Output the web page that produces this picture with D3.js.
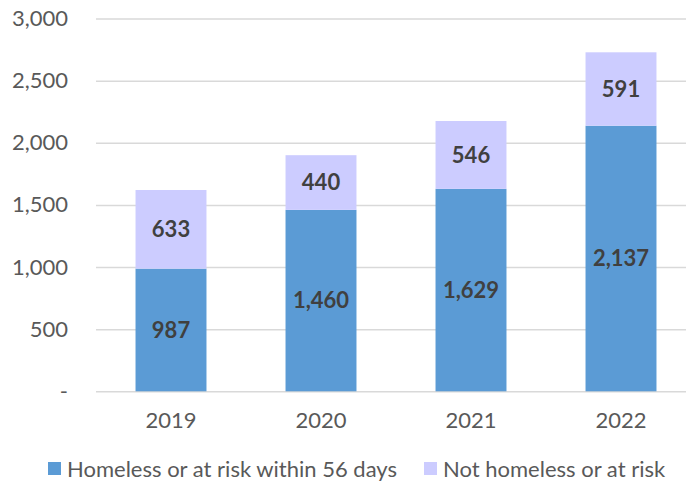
<!DOCTYPE html>
<html>
<head>
<meta charset="utf-8">
<script src="https://cdn.jsdelivr.net/npm/d3@7"></script>
<style>
  html, body { margin: 0; padding: 0; background: #fff; }
  svg { display: block; font-family: Lato, "Open Sans", sans-serif; }
</style>
</head>
<body>
<svg id="chart" width="686" height="483"></svg>
<script>
// Referrals by year, split by housing situation
const years = ["2019", "2020", "2021", "2022"];
const homeless = [987, 1460, 1629, 2137];
const notHomeless = [633, 440, 546, 591];
const seriesNames = ["Homeless or at risk within 56 days", "Not homeless or at risk"];
const seriesColors = ["#5B9BD5", "#CCCCFF"];
const yTicks = [0, 500, 1000, 1500, 2000, 2500, 3000];

const svg = d3.select("#chart");
const plot = { left: 96, right: 696, top: 18.5, bottom: 391.3 };

const x = d3.scaleBand().domain(years).range([plot.left, plot.right]).paddingInner(0.527).paddingOuter(0.2635);
const y = d3.scaleLinear().domain([0, 3000]).range([plot.bottom, plot.top]);

const fmt = d3.format(",");
const fontSize = 22;

// Gridlines and y labels
const yAxis = d3.axisLeft(y).tickValues(yTicks)
  .tickSize(-(plot.right - plot.left))
  .tickPadding(28)
  .tickFormat(d => d === 0 ? "-" : fmt(d));
const gy = svg.append("g").attr("transform", `translate(${plot.left},0)`).call(yAxis);
gy.select(".domain").remove();
gy.selectAll(".tick line").attr("stroke", "#d9d9d9").attr("stroke-width", 1.5);
gy.selectAll(".tick text").attr("fill", "#595959").attr("font-size", fontSize)
  .attr("font-family", "Lato, 'Open Sans', sans-serif");

// X labels
const xAxis = d3.axisBottom(x).tickSize(0).tickPadding(21);
const gx = svg.append("g").attr("transform", `translate(0,${plot.bottom})`).call(xAxis);
gx.select(".domain").remove();
gx.selectAll(".tick text").attr("fill", "#595959").attr("font-size", fontSize)
  .attr("font-family", "Lato, 'Open Sans', sans-serif");

// Stacked bars
const rows = years.map((yr, i) => ({ year: yr, homeless: homeless[i], notHomeless: notHomeless[i] }));
const stack = d3.stack().keys(["homeless", "notHomeless"])(rows);

const layers = svg.append("g").selectAll("g").data(stack).join("g")
  .attr("fill", (d, i) => seriesColors[i]);

layers.selectAll("rect").data(d => d).join("rect")
  .attr("x", d => x(d.data.year))
  .attr("width", x.bandwidth())
  .attr("y", d => y(d[1]))
  .attr("height", d => y(d[0]) - y(d[1]));

// Value labels centred in each segment
layers.selectAll("text").data(d => d).join("text")
  .attr("x", d => x(d.data.year) + x.bandwidth() / 2)
  .attr("y", d => (y(d[0]) + y(d[1])) / 2)
  .attr("dy", "0.35em")
  .attr("text-anchor", "middle")
  .attr("fill", "#404040")
  .attr("font-weight", "bold")
  .attr("font-size", fontSize)
  .text(d => fmt(d[1] - d[0]));

// Legend
const legend = svg.append("g").attr("transform", "translate(0,469)");
const legendX = [48, 424];
seriesNames.forEach((name, i) => {
  const g = legend.append("g").attr("transform", `translate(${legendX[i]},0)`);
  g.append("rect").attr("x", 0).attr("y", -7).attr("width", 13).attr("height", 13)
    .attr("fill", seriesColors[i]);
  g.append("text").attr("x", 19).attr("y", 0).attr("dy", "0.35em")
    .attr("fill", "#595959").attr("font-size", fontSize).text(name);
});
</script>
</body>
</html>
